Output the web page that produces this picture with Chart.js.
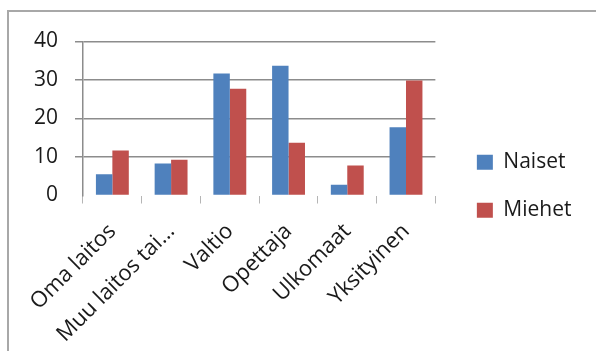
<!DOCTYPE html>
<html>
<head>
<meta charset="utf-8">
<script src="https://cdn.jsdelivr.net/npm/chart.js@4/dist/chart.umd.min.js"></script>
<style>
  html, body { margin: 0; padding: 0; background: #fff; }
  #wrap { position: relative; width: 596px; height: 351px; overflow: hidden; }
  #frame { position: absolute; left: 7px; top: 10px; right: -10px; bottom: -10px;
           border-left: 2px solid #a8a8a8; border-top: 2px solid #a8a8a8; }
  canvas { position: absolute; left: 0; top: 0; }
</style>
</head>
<body>
<div id="wrap">
  <div id="frame"></div>
  <canvas id="c" width="596" height="351"></canvas>
</div>
<script>
// Työnantajat sukupuolen mukaan
const categories = ['Oma laitos', 'Muu laitos tai…', 'Valtio', 'Opettaja', 'Ulkomaat', 'Yksityinen'];
const naiset = [5.5, 8.3, 31.7, 33.7, 2.8, 17.7];
const miehet = [11.7, 9.3, 27.7, 13.7, 7.8, 29.9];
const yTicks = [0, 10, 20, 30, 40];

const FONT = { family: '"Open Sans", sans-serif', size: 21 };
const XFONT = { family: '"Open Sans", sans-serif', size: 22 };
const TEXT = '#1a1a1a';
const GRID = '#8c8c8c';

// empty spacer scales used only to reserve room around the plot area
const spacer = (size) => ({
  type: 'linear',
  grid: { display: false, drawTicks: false },
  border: { display: false },
  ticks: { display: false },
  afterFit: s => { if (s.isHorizontal()) s.height = size; else s.width = size; }
});

function draw() {
  new Chart(document.getElementById('c'), {
    type: 'bar',
    data: {
      labels: categories,
      datasets: [
        { label: 'Naiset', data: naiset, backgroundColor: '#4f81bd', borderWidth: 0 },
        { label: 'Miehet', data: miehet, backgroundColor: '#c0504d', borderWidth: 0 }
      ]
    },
    options: {
      responsive: false,
      animation: false,
      devicePixelRatio: 1,
      layout: { padding: { left: 0, top: 21.5, right: 14.5, bottom: 0 } },
      datasets: { bar: { categoryPercentage: 0.56, barPercentage: 1 } },
      plugins: {
        tooltip: { enabled: false },
        legend: {
          position: 'right',
          align: 'center',
          maxWidth: 220,
          labels: {
            font: FONT,
            color: TEXT,
            boxWidth: 16,
            boxHeight: 15,
            padding: 27
          }
        }
      },
      scales: {
        x: {
          grid: { drawOnChartArea: false, offset: true, tickLength: 8, color: '#b5b5b5', lineWidth: 1 },
          border: { display: false },
          ticks: {
            font: XFONT, color: TEXT, autoSkip: false,
            minRotation: 45, maxRotation: 45, padding: 15
          },
          afterFit: s => { s.height = 155.5; }
        },
        y: {
          min: yTicks[0],
          max: yTicks[yTicks.length - 1],
          afterBuildTicks: s => { s.ticks = yTicks.map(v => ({ value: v })); },
          grid: {
            tickLength: 8,
            lineWidth: 1.5,
            color: c => (c.tick && c.tick.value === 0) ? 'rgba(0,0,0,0)' : GRID
          },
          border: { color: GRID, width: 1.5 },
          ticks: { font: FONT, color: TEXT, padding: 17 },
          afterFit: s => { s.width = 83; }
        },
        gapRight: Object.assign(spacer(14.5), { axis: 'y', position: 'right' }),
        gapTop: Object.assign(spacer(20), { axis: 'x', position: 'top' })
      }
    }
  });
}

if (document.fonts && document.fonts.load) {
  document.fonts.load('21px "Open Sans"').then(draw, draw);
} else {
  draw();
}
</script>
</body>
</html>
